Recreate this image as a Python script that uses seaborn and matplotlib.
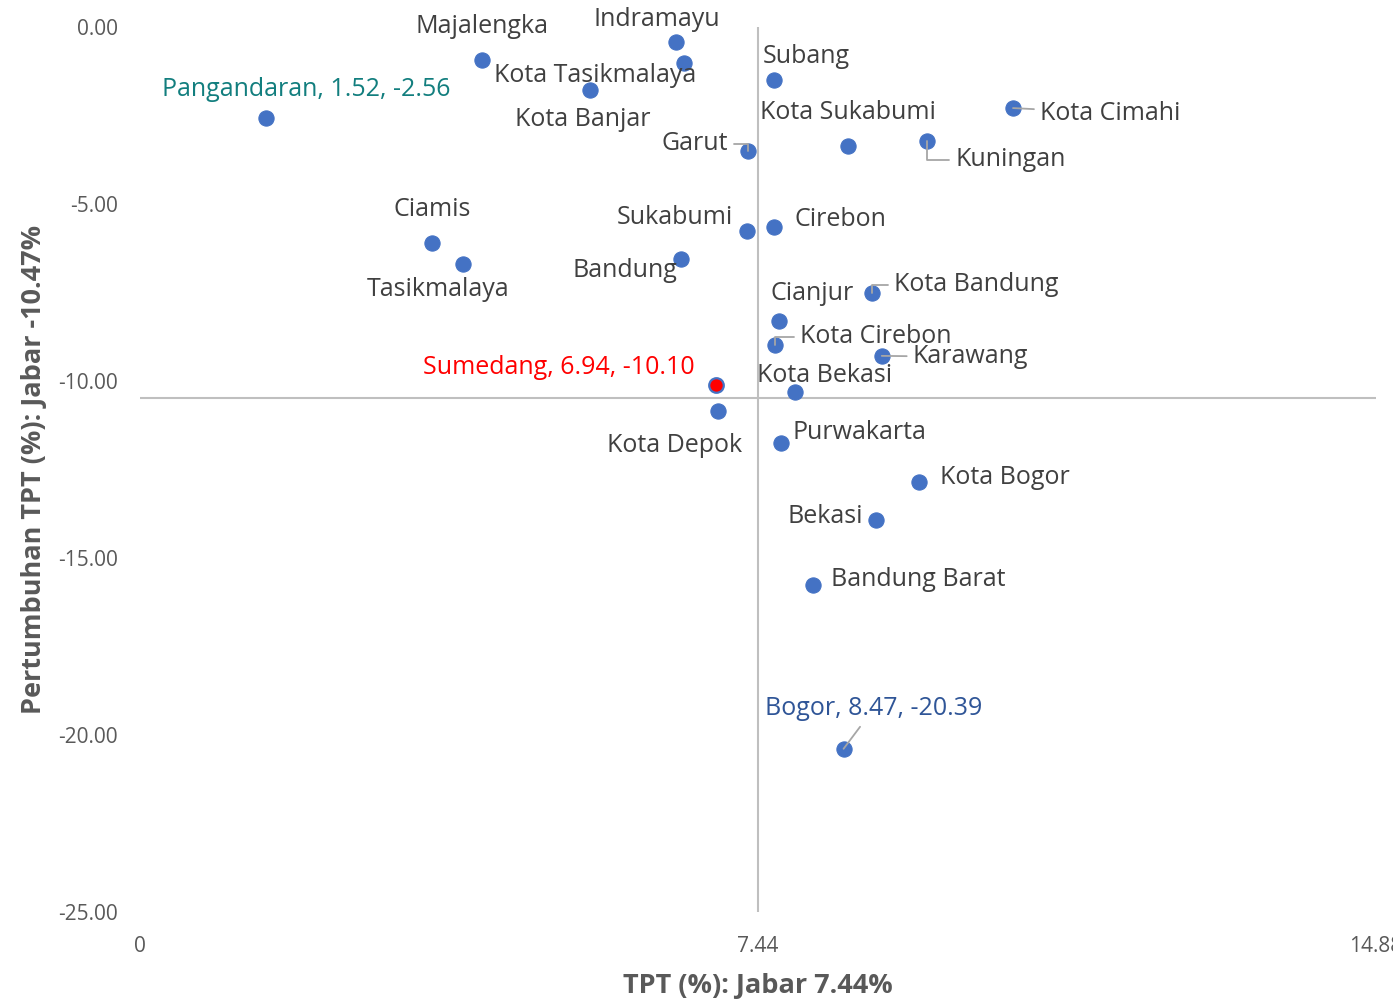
import matplotlib
matplotlib.use("Agg")
import matplotlib.pyplot as plt
import seaborn as sns
import pandas as pd

# ---- data ----
regions = ["Indramayu", "Majalengka", "Kota Tasikmalaya", "Kota Banjar", "Subang",
           "Kota Cimahi", "Kuningan", "Kota Sukabumi", "Garut", "Sukabumi", "Cirebon",
           "Ciamis", "Tasikmalaya", "Bandung", "Kota Bandung", "Cianjur", "Kota Cirebon",
           "Karawang", "Kota Bekasi", "Kota Depok", "Purwakarta", "Kota Bogor", "Bekasi",
           "Bandung Barat", "Pangandaran", "Sumedang", "Bogor"]
tpt = [6.45, 4.12, 6.55, 5.42, 7.63,
       10.51, 9.48, 8.52, 7.32, 7.31, 7.63,
       3.52, 3.89, 6.51, 8.81, 7.69, 7.65,
       8.93, 7.89, 6.96, 7.72, 9.38, 8.86,
       8.10, 1.52, 6.94, 8.47]
growth = [-0.42, -0.93, -1.02, -1.78, -1.50,
          -2.29, -3.22, -3.36, -3.50, -5.76, -5.65,
          -6.10, -6.69, -6.55, -7.51, -8.31, -8.98,
          -9.29, -10.31, -10.85, -11.75, -12.85, -13.93,
          -15.76, -2.56, -10.10, -20.39]
jabar_tpt = 7.44
jabar_growth = -10.47
x_ticks = [0, 7.44, 14.88]
x_tick_labels = ["0", "7.44", "14.88"]
y_ticks = [0, -5, -10, -15, -20, -25]
y_tick_labels = ["0.00", "-5.00", "-10.00", "-15.00", "-20.00", "-25.00"]

df = pd.DataFrame({"region": regions, "tpt": tpt, "growth": growth})

# label placement: (dx px, dy px, ha, color, leader)
label_style = {
    "Indramayu": (-19, 24, "center", None, None),
    "Majalengka": (0, 35, "center", None, None),
    "Kota Tasikmalaya": (-190, -10, "left", None, None),
    "Kota Banjar": (-7, -27, "center", None, None),
    "Subang": (-11, 26, "left", None, None),
    "Kota Cimahi": (27, -3, "left", None, "line"),
    "Kuningan": (28, -17, "left", None, "elbow"),
    "Kota Sukabumi": (0, 35, "center", None, None),
    "Garut": (-20, 9, "right", None, "elbow"),
    "Sukabumi": (-14, 15, "right", None, None),
    "Cirebon": (21, 10, "left", None, None),
    "Ciamis": (0, 35, "center", None, None),
    "Tasikmalaya": (-25, -24, "center", None, None),
    "Bandung": (-3, -10, "right", None, None),
    "Kota Bandung": (22, 10, "left", None, "elbow"),
    "Cianjur": (33, 30, "center", None, None),
    "Kota Cirebon": (25, 10, "left", None, "elbow"),
    "Karawang": (31, 1, "left", None, "line"),
    "Kota Bekasi": (29, 18, "center", None, None),
    "Kota Depok": (-44, -32, "center", None, None),
    "Purwakarta": (11, 12, "left", None, None),
    "Kota Bogor": (21, 6, "left", None, None),
    "Bekasi": (-13, 6, "right", None, None),
    "Bandung Barat": (18, 7, "left", None, None),
    "Pangandaran": (40, 30, "center", "#127E7E", None),
    "Sumedang": (-22, 19, "right", "#FF0000", None),
    "Bogor": (30, 42, "center", "#2F5597", "line"),
}

sns.set_theme(style="white")
plt.rcParams["font.family"] = ["Open Sans", "DejaVu Sans"]

fig = plt.figure(figsize=(13.93, 10.0), dpi=100)
ax = fig.add_axes([140 / 1393, 0.088, (1376 - 140) / 1393, 0.973 - 0.088])

sns.scatterplot(data=df[df.region != "Sumedang"], x="tpt", y="growth", ax=ax,
                color="#4472C4", s=120, edgecolor="#4472C4", linewidth=0.8, zorder=3)
sm = df[df.region == "Sumedang"]
sns.scatterplot(data=sm, x="tpt", y="growth", ax=ax, color="#FF0000", s=110,
                edgecolor="#4472C4", linewidth=1.6, zorder=4)

ax.set_xlim(0, 14.88)
ax.set_ylim(-25, 0)
ax.axvline(jabar_tpt, color="#BFBFBF", lw=1.5, zorder=1)
ax.axhline(jabar_growth, color="#BFBFBF", lw=1.5, zorder=1)
for s in ax.spines.values():
    s.set_visible(False)

ax.set_xticks(x_ticks)
ax.set_xticklabels(x_tick_labels)
ax.set_yticks(y_ticks)
ax.set_yticklabels(y_tick_labels)
ax.tick_params(axis="both", length=0, labelsize=15, labelcolor="#595959")
ax.tick_params(axis="x", pad=17)
ax.tick_params(axis="y", pad=16)
ax.grid(False)

ax.set_xlabel("TPT (%): Jabar 7.44%", fontsize=19.5, fontweight="bold", color="#595959", labelpad=12)
ax.set_ylabel("Pertumbuhan TPT (%): Jabar -10.47%", fontsize=19.5, fontweight="bold",
              color="#595959", labelpad=8)

for _, r in df.iterrows():
    dx, dy, ha, col, leader = label_style[r.region]
    text = r.region
    if col is not None:
        text = f"{r.region}, {r.tpt:.2f}, {r.growth:.2f}"
    arrow = None
    if leader == "line":
        arrow = dict(arrowstyle="-", color="#A6A6A6", lw=1.3, shrinkA=2, shrinkB=0)
    elif leader == "elbow":
        arrow = dict(arrowstyle="-", color="#A6A6A6", lw=1.3, shrinkA=2, shrinkB=0,
                     connectionstyle="angle,angleA=0,angleB=90,rad=0")
    ax.annotate(text, xy=(r.tpt, r.growth), xytext=(dx, dy - 2), textcoords="offset pixels",
                ha=ha, va="center", fontsize=18, color=col if col else "#404040",
                arrowprops=arrow, zorder=5)

fig.savefig("out.png", dpi=100)
